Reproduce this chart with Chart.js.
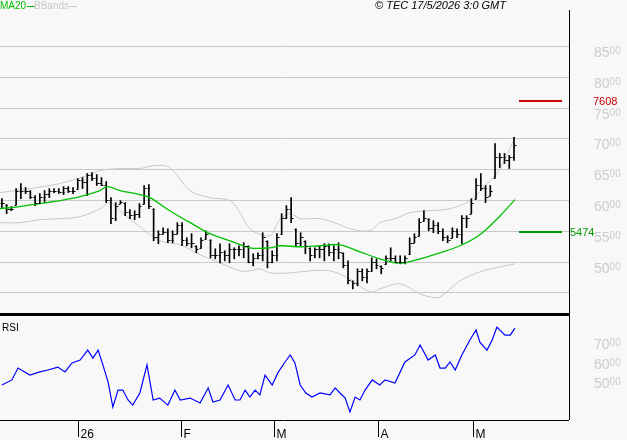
<!DOCTYPE html>
<html>
<head>
<meta charset="utf-8">
<script src="https://cdn.jsdelivr.net/npm/chart.js@4.4.1/dist/chart.umd.min.js"></script>
<style>
  html, body { margin: 0; padding: 0; background: #f8f8f8; }
  #wrap { position: relative; width: 627px; height: 440px; font-family: "Liberation Sans", sans-serif; }
  #priceBox { position: absolute; left: 0; top: 0; width: 627px; height: 316px; }
  #rsiBox { position: absolute; left: 0; top: 316px; width: 627px; height: 124px; }
  .lbl { position: absolute; font-size: 11px; white-space: nowrap; }
</style>
</head>
<body>
<div id="wrap">
  <div id="priceBox"><canvas id="price"></canvas></div>
  <div id="rsiBox"><canvas id="rsi"></canvas></div>
  <div class="lbl" style="left:0px;top:0px;color:#00c000;font-size:10px;">MA20<span style="display:inline-block;width:8px;height:1px;background:#00c000;vertical-align:middle;margin-left:1px;"></span></div>
  <div class="lbl" style="left:34px;top:0px;color:#c8c8c8;font-size:10px;">BBands<span style="display:inline-block;width:8px;height:1px;background:#c8c8c8;vertical-align:middle;"></span></div>
  <div class="lbl" style="left:375px;top:-1px;color:#000;font-style:italic;">© TEC 17/5/2026 3:0 GMT</div>
  <div class="lbl" style="left:2px;top:322px;color:#000;font-size:10px;">RSI</div>
</div>
<script>
// ---------- data (prices) ----------
const highs = [6022,5924,5892,6185,6267,6201,6152,6071,6104,6152,6185,6185,6185,6218,6218,6201,6348,6364,6430,6446,
  6413,6364,6299,6038,5957,5989,5957,5843,5826,5941,6234,6250,5859,5500,5549,5533,5500,5631,5631,5386,
  5452,5256,5386,5500,5354,5207,5289,5174,5289,5223,5256,5305,5256,5126,5142,5468,5337,5174,5452,5778,
  5908,6038,5533,5468,5337,5223,5223,5256,5289,5289,5256,5305,5142,5011,4685,4881,4881,4881,5060,5044,
  4930,5093,5223,5093,5093,5093,5386,5452,5696,5826,5696,5663,5631,5533,5419,5549,5533,5745,5745,6022,
  6348,6430,6234,6234,6918,6755,6755,6723,7016];
const lows = [5859,5778,5826,5924,6022,6104,6022,5908,5941,5957,6038,6120,6104,6087,6120,6104,6185,6185,6071,6315,
  6234,6234,5957,5615,5663,5940,5745,5696,5680,5712,5941,5859,5337,5289,5452,5305,5305,5452,5256,5256,
  5223,5142,5223,5370,5060,5044,4979,5011,4979,5044,5093,5060,4979,4930,5044,5011,4897,4979,5011,5452,
  5696,5631,5256,5256,5126,5011,5060,5060,5011,5093,5011,5044,4897,4636,4555,4604,4685,4653,4848,4881,
  4800,4962,5011,4979,4962,4962,5126,5305,5419,5663,5500,5468,5452,5337,5305,5386,5386,5289,5549,5778,
  6022,6152,5957,6071,6364,6527,6592,6511,6641];
const closes = [5950,5850,5860,6150,6150,6150,6050,5950,6050,6100,6150,6150,6130,6200,6150,6150,6330,6300,6400,6350,
  6280,6250,6000,5700,5900,5960,5800,5750,5780,5900,6200,5900,5400,5450,5480,5350,5450,5600,5350,5300,
  5300,5200,5350,5450,5100,5100,5150,5100,5200,5200,5200,5250,5000,5050,5100,5400,5000,5100,5400,5700,
  5850,5700,5300,5400,5250,5100,5200,5200,5250,5150,5200,5150,4950,4700,4650,4850,4750,4850,5000,4950,
  4900,5050,5050,5000,5000,5050,5300,5400,5650,5700,5550,5600,5500,5400,5350,5500,5450,5700,5700,5950,
  6250,6200,6050,6150,6700,6700,6650,6700,6900];

const maIdx = [-0.4,3.8,8.0,12.2,16.5,20.7,22.2,24.9,29.1,31.2,35.4,39.7,43.9,48.1,52.3,56.5,58.6,62.9,67.1,71.3,75.5,79.7,82.9,85.0,88.2,92.4,96.6,100.8,105.1,108.2];
const maVal = [5859,5892,5941,5989,6055,6152,6218,6152,6087,6038,5826,5631,5452,5337,5223,5223,5256,5240,5256,5272,5158,5044,4979,4979,5044,5142,5256,5435,5745,6006];

const upIdx = [-0.4,5.9,12.2,18.6,20.7,24.9,29.1,32.3,35.4,39.7,43.9,48.1,50.2,52.3,56.5,58.6,60.8,62.9,67.1,71.3,73.4,77.6,79.7,82.9,86.1,90.3,94.5,98.7,103.0,105.1,108.2];
const upVal = [6120,6185,6267,6413,6478,6511,6511,6560,6527,6152,6038,5989,5794,5533,5419,5680,5778,5696,5696,5598,5533,5500,5631,5696,5794,5826,5859,5989,6315,6511,7016];
const loIdx = [-0.4,3.8,8.0,12.2,16.5,20.7,22.8,24.9,29.1,33.3,37.6,41.8,46.0,50.2,52.3,54.4,56.5,60.8,65.0,69.2,73.4,77.6,79.7,84.0,88.2,90.3,92.4,96.6,100.8,105.1,108.2];
const loVal = [5631,5631,5680,5696,5729,5859,5957,5826,5566,5337,5272,5109,4979,4848,4848,4881,4816,4816,4848,4848,4718,4506,4555,4636,4474,4425,4425,4685,4832,4914,4962];

const rsiIdx = [0,2.1,3.4,5.9,8.0,9.7,11.8,13.3,14.8,16.5,18.1,19.2,20.3,21.3,22.4,23.4,24.5,25.5,26.6,27.6,29.1,30.6,31.9,33.3,35.0,36.5,37.6,39.7,41.8,43.5,44.5,46.0,47.7,49.2,50.2,51.3,52.3,53.4,54.4,55.5,57.0,58.2,59.7,60.8,61.8,62.9,64.1,65.4,67.1,69.2,70.3,71.3,72.4,73.4,74.5,75.5,76.6,78.1,79.7,80.8,82.9,85.0,87.1,88.2,89.9,91.4,92.4,93.5,94.5,95.6,97.0,98.7,100.0,100.8,102.3,103.4,104.4,106.1,107.2,108.2];
const rsiVal = [45.9,48.5,54.6,51.0,52.6,53.6,55.1,52.6,57.2,58.7,63.8,59.7,63.8,56.2,47.4,34.6,43.3,43.3,38.2,35.6,41.8,56.2,38.2,39.2,35.6,43.3,38.2,39.2,36.7,44.4,37.2,38.2,45.9,38.2,38.2,43.3,39.7,43.3,40.8,51.0,45.9,52.1,57.7,61.3,57.2,45.9,41.8,39.7,41.8,40.8,44.4,41.8,39.2,32.1,39.7,38.2,43.3,48.5,45.9,48.5,46.9,57.7,61.3,66.4,58.7,61.3,54.6,54.6,57.7,53.6,61.3,69.0,74.1,67.9,63.8,69.0,75.6,71.5,71.5,75.1];

const priceTicks = [5000,5500,6000,6500,7000,7500,8000,8500];
const gridLines = [4500,5000,5500,6000,6500,7000,7500,8000,8500];
const rsiTicks = [50,60,70];
const monthIdx = [16.0,37.8,57.4,79.3,99.4];
const monthLabels = ['26','F','M','A','M'];
const levels = [{ v: 7608, color: '#cc0000', labelX: 593 }, { v: 5474, color: '#009900', labelX: 570 }];

const X_MIN = -0.4, X_MAX = 119.6;
const FONT = '"Liberation Sans"';
const toPts = (xs, ys) => xs.map((x, i) => ({ x, y: ys[i] }));

function drawSplitLabel(ctx, v, px, py) {
  ctx.font = `14px ${FONT}`;
  const big = String(v);
  ctx.fillText(big, px, py);
  const w = ctx.measureText(big).width;
  ctx.font = `10px ${FONT}`;
  ctx.fillText('00', px + w, py - 3);
}

/* ---------- price panel plugin: grid, ohlc ticks, labels, levels ---------- */
const pricePlugin = {
  id: 'pricePanel',
  beforeDatasetsDraw(chart) {
    const { ctx, chartArea: a, scales: { y } } = chart;
    ctx.save();
    ctx.strokeStyle = '#c8c8c8'; ctx.lineWidth = 1;
    gridLines.forEach(v => {
      const py = Math.round(y.getPixelForValue(v)) + 0.5;
      ctx.beginPath(); ctx.moveTo(a.left, py); ctx.lineTo(a.right, py); ctx.stroke();
    });
    ctx.restore();
  },
  afterDatasetsDraw(chart) {
    const { ctx, chartArea: a, scales: { x, y } } = chart;
    ctx.save();
    ctx.strokeStyle = '#000'; ctx.lineWidth = 1;
    closes.forEach((c, i) => {
      const px = Math.round(x.getPixelForValue(i)) + 0.5;
      const prev = i ? closes[i - 1] : c;
      const o = Math.min(highs[i], Math.max(lows[i], prev));
      const oy = Math.round(y.getPixelForValue(o)) + 0.5;
      const cy = Math.round(y.getPixelForValue(c)) + 0.5;
      ctx.beginPath(); ctx.moveTo(px - 2, oy); ctx.lineTo(px, oy); ctx.stroke();
      ctx.beginPath(); ctx.moveTo(px, cy); ctx.lineTo(px + 2, cy); ctx.stroke();
    });
    ctx.beginPath(); ctx.moveTo(a.right + 0.5, 10); ctx.lineTo(a.right + 0.5, chart.height); ctx.stroke();
    ctx.lineWidth = 3;
    ctx.beginPath(); ctx.moveTo(0, chart.height - 1.5); ctx.lineTo(a.right, chart.height - 1.5); ctx.stroke();
    ctx.fillStyle = '#cccccc'; ctx.textBaseline = 'alphabetic';
    priceTicks.forEach(v => drawSplitLabel(ctx, v / 100, 594, y.getPixelForValue(v) + 11));
    levels.forEach(l => {
      const py = Math.round(y.getPixelForValue(l.v));
      ctx.fillStyle = l.color;
      ctx.fillRect(519, py - 1, 43, 2);
      ctx.font = `11px ${FONT}`; ctx.textBaseline = 'middle';
      ctx.fillText(String(l.v), l.labelX, py + 1);
    });
    ctx.restore();
  }
};

new Chart(document.getElementById('price'), {
  type: 'bar',
  data: {
    datasets: [
      { type: 'bar', data: highs.map((h, i) => ({ x: i, y: [lows[i], h] })), backgroundColor: '#000', barThickness: 1, order: 2 },
      { type: 'line', data: toPts(maIdx, maVal), borderColor: '#00c000', borderWidth: 1.3, pointRadius: 0, tension: 0.35, order: 1 },
      { type: 'line', data: toPts(upIdx, upVal), borderColor: '#c8c8c8', borderWidth: 1, pointRadius: 0, tension: 0.35, order: 3 },
      { type: 'line', data: toPts(loIdx, loVal), borderColor: '#c8c8c8', borderWidth: 1, pointRadius: 0, tension: 0.35, order: 3 }
    ]
  },
  options: {
    responsive: true, maintainAspectRatio: false, animation: false,
    layout: { padding: { left: 0, right: 58, top: 10, bottom: 0 } },
    plugins: { legend: { display: false }, tooltip: { enabled: false } },
    scales: {
      x: { type: 'linear', min: X_MIN, max: X_MAX, offset: false, display: false },
      y: { min: 7000 - 177 * 16.3, max: 7000 + 128 * 16.3, display: false }
    }
  },
  plugins: [pricePlugin]
});

/* ---------- RSI panel ---------- */
const rsiPlugin = {
  id: 'rsiPanel',
  afterDatasetsDraw(chart) {
    const { ctx, chartArea: a, scales: { x, y } } = chart;
    ctx.save();
    ctx.strokeStyle = '#000'; ctx.lineWidth = 1;
    ctx.beginPath(); ctx.moveTo(a.right + 0.5, 0); ctx.lineTo(a.right + 0.5, a.bottom); ctx.stroke();
    ctx.beginPath(); ctx.moveTo(0, a.bottom + 0.5); ctx.lineTo(a.right, a.bottom + 0.5); ctx.stroke();
    ctx.fillStyle = '#000'; ctx.font = `12px ${FONT}`; ctx.textBaseline = 'alphabetic';
    monthIdx.forEach((m, i) => {
      const px = Math.round(x.getPixelForValue(m)) + 0.5;
      ctx.beginPath(); ctx.moveTo(px, a.bottom); ctx.lineTo(px, a.bottom + 17); ctx.stroke();
      ctx.fillText(monthLabels[i], px + 2, a.bottom + 18);
    });
    ctx.fillStyle = '#cccccc';
    rsiTicks.forEach(v => drawSplitLabel(ctx, v, 594, y.getPixelForValue(v) + 11));
    ctx.restore();
  }
};

new Chart(document.getElementById('rsi'), {
  type: 'line',
  data: { datasets: [{ data: toPts(rsiIdx, rsiVal), borderColor: '#0000ff', borderWidth: 1.2, pointRadius: 0, tension: 0 }] },
  options: {
    responsive: true, maintainAspectRatio: false, animation: false,
    layout: { padding: { left: 0, right: 58, top: 0, bottom: 20 } },
    plugins: { legend: { display: false }, tooltip: { enabled: false } },
    scales: {
      x: { type: 'linear', min: X_MIN, max: X_MAX, display: false },
      y: { min: 70 - (420 - 338) / 1.95, max: 70 + (338 - 316) / 1.95, display: false }
    }
  },
  plugins: [rsiPlugin]
});
</script>
</body>
</html>
